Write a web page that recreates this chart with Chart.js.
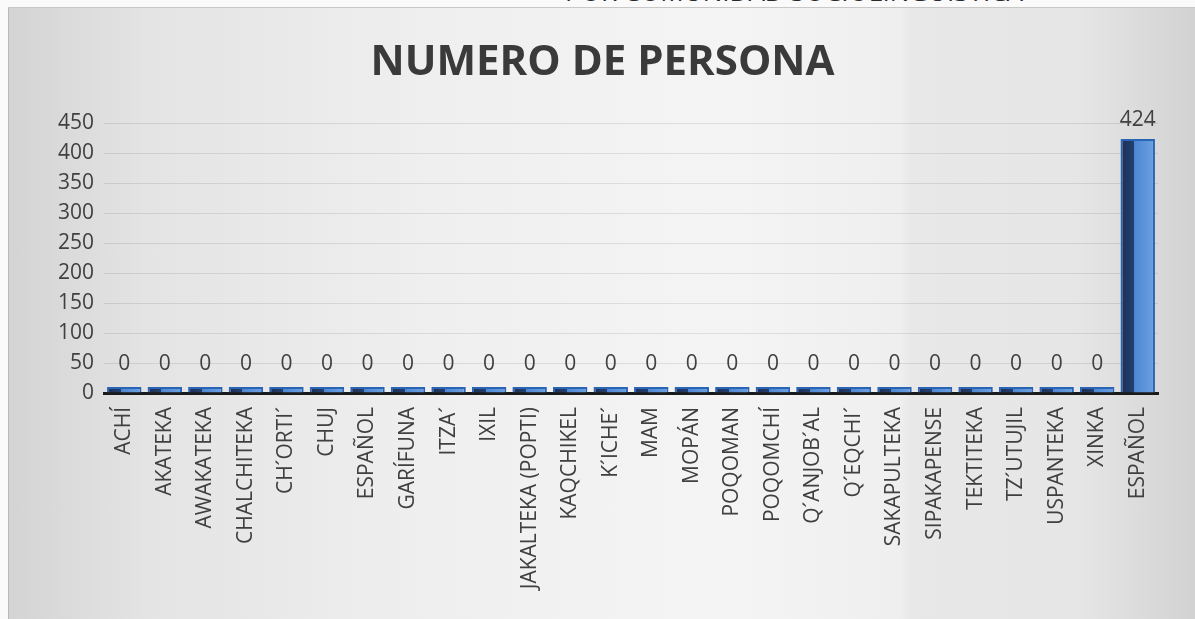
<!DOCTYPE html>
<html>
<head>
<meta charset="utf-8">
<script src="https://cdn.jsdelivr.net/npm/chart.js"></script>
<style>
  html, body { margin: 0; padding: 0; background: #fafafa; width: 1195px; height: 619px; overflow: hidden; }
  #cap {
    position: absolute; top: -22px; right: 172px;
    font: 26px "Open Sans", sans-serif; line-height: 26px; color: #2a2a2a; white-space: nowrap;
  }
  #box {
    position: absolute; left: 8px; top: 7px; width: 1187px; height: 612px;
    border-left: 1px solid #b8b8b8; border-top: 1px solid #c8c8c8;
    background: linear-gradient(to right, #d4d4d4 0%, #e4e4e4 12%, #efefef 35%, #f4f4f4 60%, #efefef 75%, #e8e8e8 76%, #e6e6e6 90%, #d2d2d2 100%);
  }
  #box canvas { position: absolute; left: 0; top: 0; }
</style>
</head>
<body>
<div id="cap">POR COMUNIDAD SOCIOLINGÜÍSTICA</div>
<div id="box"><canvas id="myChart" width="1187" height="612"></canvas></div>
<script>
var categorias = ['ACHÍ', 'AKATEKA', 'AWAKATEKA', 'CHALCHITEKA', 'CH´ORTI´', 'CHUJ', 'ESPAÑOL', 'GARÍFUNA',
  'ITZA´', 'IXIL', 'JAKALTEKA (POPTI)', 'KAQCHIKEL', 'K´ICHE´', 'MAM', 'MOPÁN', 'POQOMAN', 'POQOMCHÍ',
  "Q´ANJOB´AL", 'Q´EQCHI´', 'SAKAPULTEKA', 'SIPAKAPENSE', 'TEKTITEKA', 'TZ´UTUJIL', 'USPANTEKA', 'XINKA', 'ESPAÑOL'];
var personas = [0, 0, 0, 0, 0, 0, 0, 0, 0, 0, 0, 0, 0, 0, 0, 0, 0, 0, 0, 0, 0, 0, 0, 0, 0, 424];
var ticksY = [0, 50, 100, 150, 200, 250, 300, 350, 400, 450];

var ANCHO = 0.85;

// color de barra con cara lateral oscura
function colorBarra(context) {
  var chart = context.chart;
  var xs = chart.scales.x;
  if (!chart.chartArea || !xs || context.dataIndex === undefined) return '#4f8ad6';
  var x = xs.getPixelForValue(context.dataIndex);
  var w = xs.width / categorias.length * ANCHO;
  var g = chart.ctx.createLinearGradient(x - w / 2, 0, x + w / 2, 0);
  g.addColorStop(0, '#1c2f55');
  g.addColorStop(0.4, '#243f6e');
  g.addColorStop(0.4, '#4c86d2');
  g.addColorStop(1, '#6da2e2');
  return g;
}

var etiquetas = {
  id: 'etiquetas',
  afterDatasetsDraw: function(chart) {
    var ctx = chart.ctx;
    var meta = chart.getDatasetMeta(0);
    ctx.save();
    ctx.font = '21px "Open Sans", sans-serif';
    ctx.fillStyle = '#404040';
    ctx.textAlign = 'center';
    ctx.textBaseline = 'bottom';
    meta.data.forEach(function(bar, i) {
      ctx.fillText(String(personas[i]), bar.x, bar.y - (personas[i] ? 8 : 12));
    });
    ctx.restore();
  }
};

var ctx = document.getElementById('myChart').getContext('2d');
var chart = new Chart(ctx, {
  type: 'bar',
  data: {
    labels: categorias,
    datasets: [{
      label: 'NUMERO DE PERSONA',
      data: personas,
      backgroundColor: colorBarra,
      borderColor: '#2a64b4',
      borderWidth: 2,
      minBarLength: 6,
      categoryPercentage: 1,
      barPercentage: ANCHO
    }]
  },
  options: {
    responsive: false,
    animation: false,
    layout: { padding: { left: 38, right: 38, top: 0, bottom: 20 } },
    plugins: {
      legend: { display: false },
      tooltip: { enabled: false },
      title: {
        display: true,
        text: 'NUMERO DE PERSONA',
        color: '#3a3a3a',
        font: { family: '"Open Sans", sans-serif', size: 42, weight: 'bold' },
        padding: { top: 30, bottom: 35 }
      }
    },
    scales: {
      x: {
        grid: { display: false },
        border: { color: '#1a1a1a', width: 3 },
        ticks: {
          color: '#404040',
          font: { family: '"Open Sans", sans-serif', size: 21 },
          minRotation: 90,
          maxRotation: 90,
          autoSkip: false,
          padding: 6
        },
        afterFit: function(s) { s.height = 207; }
      },
      y: {
        min: 0,
        max: 450,
        afterBuildTicks: function(s) { s.ticks = ticksY.map(function(v) { return { value: v }; }); },
        grid: { color: 'rgba(0,0,0,0.09)', drawTicks: false },
        border: { display: false },
        ticks: {
          color: '#404040',
          font: { family: '"Open Sans", sans-serif', size: 21 },
          padding: 10
        },
        afterFit: function(s) { s.width = 57; }
      }
    }
  },
  plugins: [etiquetas]
});
</script>
</body>
</html>
